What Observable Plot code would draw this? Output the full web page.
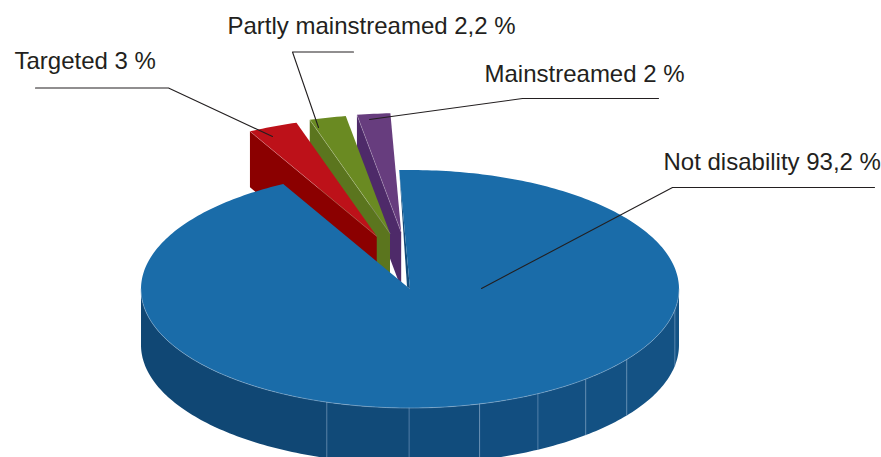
<!DOCTYPE html>
<html>
<head>
<meta charset="utf-8">
<title>Share of aid by disability marker</title>
<script src="https://cdn.jsdelivr.net/npm/d3@7"></script>
<script src="https://cdn.jsdelivr.net/npm/@observablehq/plot@0.6"></script>
<style>
  html, body { margin: 0; padding: 0; background: #fff; }
  svg { display: block; }
</style>
</head>
<body>
<div id="chart"></div>
<script>
// Slices, in clockwise order from just left of twelve o'clock.
const names = ["Not disability", "Targeted", "Partly mainstreamed", "Mainstreamed"];
const shares = [93.2, 3, 2.2, 2];

const topColors = ["#1a6ca9", "#bd1119", "#6a8a22", "#673d7e"];
const wallColors = ["#124c7c", "#8b0000", "#5b751e", "#4e2a69"];

// Callout placement: label anchor, then the leader's tail, elbow and tip.
const labelX = [663, 14, 227, 484];
const labelY = [162, 61, 26, 74];
const leaderTailX = [874, 35, 353, 658];
const leaderTailY = [187, 87.5, 51.5, 98];
const leaderElbowX = [672, 168, 292, 522];
const leaderElbowY = [187, 87.5, 51.5, 98];
const leaderTipX = [481, 272, 318, 369];
const leaderTipY = [288, 136, 127, 119];

// Facets of the front wall: boundaries in degrees clockwise from the top.
const facetEdges = [90, 100, 126.3, 139.2, 151.6, 165, 180.2, 198, 270];
const facetColors = ["#145385", "#145284", "#135183", "#135082", "#124e80", "#114c7c", "#114a78", "#104774"];

// Disc projection.
const cx = 409.5, cy = 288.5, rx = 269, ry = 119, depth = 56;
const startAngle = -2.3;
const explodeX = 0.32, explodeY = 0.48;

const rad = (deg) => (deg * Math.PI) / 180;
const rimPoint = (deg, o = {x: cx, y: cy}) => ({
  x: o.x + rx * Math.sin(rad(deg)),
  y: o.y - ry * Math.cos(rad(deg))
});
const drop = (p) => ({x: p.x, y: p.y + depth});
const arc = (from, to, o) => {
  const n = Math.max(2, Math.ceil(Math.abs(to - from)));
  return d3.range(n + 1).map((i) => rimPoint(from + ((to - from) * i) / n, o));
};

// Angles follow directly from the stated shares.
const total = d3.sum(shares);
let cursor = startAngle;
const slices = shares.map((share, i) => {
  const from = cursor;
  const to = (cursor += (share / total) * 360);
  const mid = (from + to) / 2;
  const apex = i === 0
    ? {x: cx, y: cy}
    : {x: cx + explodeX * rx * Math.sin(rad(mid)), y: cy - explodeY * ry * Math.cos(rad(mid))};
  return {i, from, to, apex};
});

const poly = (points, fill) =>
  Plot.line(points, {x: "x", y: "y", fill, stroke: "none", curve: "linear-closed", clip: true});
const edge = (points, stroke, strokeWidth = 0.7, strokeOpacity = 0.8) =>
  Plot.line(points, {x: "x", y: "y", stroke, strokeWidth, strokeOpacity, clip: true});

// Front wall of the large slice, one facet at a time.
const wallMarks = facetColors.map((color, i) => {
  const upper = arc(facetEdges[i], facetEdges[i + 1]);
  return poly([...upper, ...upper.map(drop).reverse()], color);
});

// Small slices are pulled away from the centre; drawn back to front.
const pulledMarks = [slices[3], slices[2], slices[1]].flatMap((s) => {
  const a = rimPoint(s.from, s.apex);
  const wall = [a, s.apex, drop(s.apex), drop(a)];
  return [
    poly(wall, wallColors[s.i]),
    poly([s.apex, ...arc(s.from, s.to, s.apex)], topColors[s.i]),
    edge([a, s.apex], "#ffffff", 0.6, 0.35)
  ];
});

// Large slice: the sliver of its cut face, then its top.
const big = slices[0];
const cutRim = rimPoint(big.from);
const sliver = [cutRim, big.apex, {x: big.apex.x - 3, y: big.apex.y - 2.5}];
const bigTop = [big.apex, ...arc(big.from, big.to)];

// Light seams between facets and along the front rim.
const seams = facetEdges.slice(1, -1).map((deg) => {
  const p = rimPoint(deg);
  return edge([p, drop(p)], "#8fb2d0", 0.8, 0.55);
});

const leaders = names.map((name, i) => [
  {name, x: leaderTailX[i], y: leaderTailY[i]},
  {name, x: leaderElbowX[i], y: leaderElbowY[i]},
  {name, x: leaderTipX[i], y: leaderTipY[i]}
]);

const labels = names.map((name, i) => ({
  text: `${name} ${String(shares[i]).replace(".", ",")} %`,
  x: labelX[i],
  y: labelY[i]
}));

const chart = Plot.plot({
  width: 881,
  height: 457,
  margin: 0,
  x: {domain: [0, 881], range: [0, 881], axis: null},
  y: {domain: [0, 457], range: [0, 457], axis: null},
  marks: [
    ...wallMarks,
    ...pulledMarks,
    poly(sliver, wallColors[0]),
    poly(bigTop, topColors[0]),
    ...seams,
    edge(arc(90, 270), "#8fb2d0", 0.8, 0.7),
    ...leaders.map((points) =>
      Plot.line(points, {x: "x", y: "y", stroke: "#231f20", strokeWidth: 1.1})
    ),
    Plot.text(labels, {
      x: "x",
      y: "y",
      text: "text",
      textAnchor: "start",
      fill: "#231f20",
      fontFamily: "Liberation Sans, Arial, sans-serif",
      fontSize: 24
    })
  ]
});

document.getElementById("chart").append(chart);
</script>
</body>
</html>
